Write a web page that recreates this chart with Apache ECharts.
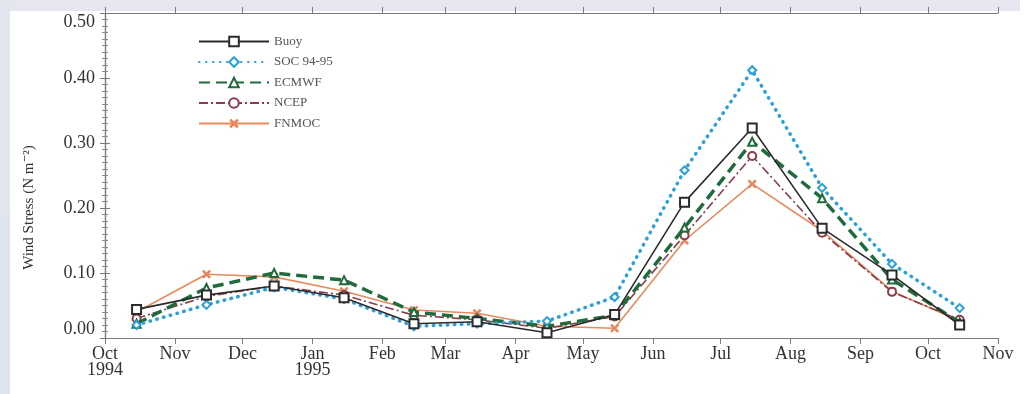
<!DOCTYPE html>
<html>
<head>
<meta charset="utf-8">
<script src="https://cdn.jsdelivr.net/npm/echarts@6/dist/echarts.min.js"></script>
<style>
html,body{margin:0;padding:0;background:#fff;}
#c{width:1030px;height:394px;}
</style>
</head>
<body>
<div id="c"></div>
<script>
// ---- data ----
var pointDates = ["1994-10-15","1994-11-15","1994-12-15","1995-01-15","1995-02-15","1995-03-15","1995-04-15","1995-05-15","1995-06-15","1995-07-15","1995-08-15","1995-09-15","1995-10-15"];
var monthStarts = ["1994-10-01","1994-11-01","1994-12-01","1995-01-01","1995-02-01","1995-03-01","1995-04-01","1995-05-01","1995-06-01","1995-07-01","1995-08-01","1995-09-01","1995-10-01","1995-11-01"];
var monthLabels = ["Oct\n1994","Nov","Dec","Jan\n1995","Feb","Mar","Apr","May","Jun","Jul","Aug","Sep","Oct","Nov"];
var yTicks = [0, 0.1, 0.2, 0.3, 0.4, 0.5];

var buoy   = [0.044, 0.066, 0.080, 0.062, 0.022, 0.025, 0.008, 0.036, 0.209, 0.323, 0.169, 0.097, 0.020];
var soc    = [0.020, 0.051, 0.078, 0.060, 0.018, 0.022, 0.026, 0.063, 0.258, 0.412, 0.231, 0.114, 0.046];
var ecmwf  = [0.022, 0.077, 0.100, 0.089, 0.040, 0.030, 0.018, 0.035, 0.170, 0.302, 0.215, 0.090, 0.024];
var ncep   = [0.030, 0.064, 0.080, 0.066, 0.035, 0.028, 0.015, 0.033, 0.158, 0.280, 0.162, 0.071, 0.028];
var fnmoc  = [0.040, 0.098, 0.094, 0.072, 0.043, 0.038, 0.018, 0.015, 0.150, 0.237, 0.165, 0.072, 0.026];

// ---- helpers ----
var origin = Date.UTC(1994, 9, 1);
function dayOf(s){ var p = s.split('-'); return (Date.UTC(+p[0], +p[1]-1, +p[2]) - origin) / 86400000; }
var xs = pointDates.map(dayOf);
var tickDays = monthStarts.map(dayOf);
function pairs(v){ return v.map(function(y,i){ return [xs[i], y]; }); }
var labelMap = {};
tickDays.forEach(function(d,i){ labelMap[d] = monthLabels[i]; });

var serif = '"Liberation Serif","DejaVu Serif",serif';
var axisCol = '#7a7a7a';
var xMark = 'path://M2,0 L5,3 L8,0 L10,2 L7,5 L10,8 L8,10 L5,7 L2,10 L0,8 L3,5 L0,2 Z';

function xAxisDef(pos, showLabel){
  return {
    type:'value', position:pos, min:tickDays[0], max:tickDays[tickDays.length-1],
    axisLine:{show:true, onZero:false, lineStyle:{color:axisCol, width:1.2}},
    axisTick:{show:true, customValues:tickDays, length:6, lineStyle:{color:axisCol}},
    axisLabel:{show:showLabel, customValues:tickDays, margin:8, fontFamily:serif, fontSize:18, color:'#333', lineHeight:16,
      formatter:function(v){ return labelMap[v] || ''; }},
    splitLine:{show:false}
  };
}
function yAxisDef(pos, showLabel){
  return {
    type:'value', position:pos, min:0, max:0.5, interval:0.1,
    axisLine:{show:true, lineStyle:{color:axisCol, width:1.2}},
    axisTick:{show:true, length:5, lineStyle:{color:axisCol}},
    minorTick:{show:true, splitNumber:10, length:3, lineStyle:{color:'#8a8a8a'}},
    axisLabel:{show:showLabel, margin:10, fontFamily:serif, fontSize:18, color:'#333',
      verticalAlignMaxLabel:'top', verticalAlignMinLabel:'bottom',
      formatter:function(v){ return v.toFixed(2); }},
    splitLine:{show:false},
    name: showLabel ? 'Wind Stress (N m\u207B\u00B2)' : '',
    nameLocation:'middle', nameGap:68, nameRotate:90,
    nameTextStyle:{fontFamily:serif, fontSize:15, color:'#333', padding:[0,64,0,0]}
  };
}

var chart = echarts.init(document.getElementById('c'), null, {renderer:'canvas'});
chart.setOption({
  backgroundColor:'#fff',
  animation:false,
  graphic:[
    {type:'rect', z:-10, shape:{x:0, y:0, width:1020, height:11}, style:{fill:'#e7e5ef'}},
    {type:'rect', z:-10, shape:{x:0, y:0, width:10, height:394}, style:{fill:'#e3e5ef'}},
    {type:'rect', z:-10, shape:{x:0, y:215, width:10, height:179}, style:{fill:'#dde4f0'}}
  ],
  grid:{left:105, right:32, top:13, bottom:56},
  legend:{
    orient:'vertical', left:193, top:30, itemWidth:70, itemHeight:12, itemGap:7.5,
    textStyle:{fontFamily:serif, fontSize:13, color:'#555'},
    data:['Buoy','SOC 94-95','ECMWF','NCEP','FNMOC']
  },
  xAxis:[xAxisDef('bottom', true), xAxisDef('top', false)],
  yAxis:[yAxisDef('left', true), yAxisDef('right', false)],
  series:[
    {name:'FNMOC', type:'line', data:pairs(fnmoc), symbol:xMark, symbolSize:9,
      itemStyle:{color:'#e6875b'}, lineStyle:{color:'#e98a5c', width:1.6}, z:2},
    {name:'NCEP', type:'line', data:pairs(ncep), symbol:'emptyCircle', symbolSize:8,
      itemStyle:{color:'#8a3b4c', borderColor:'#8a3b4c'}, lineStyle:{color:'#8a3b4c', width:1.6, type:[9,3,2,3]}, z:3},
    {name:'ECMWF', type:'line', data:pairs(ecmwf), symbol:'emptyTriangle', symbolSize:8,
      itemStyle:{color:'#1f6b3c', borderColor:'#1f6b3c'}, lineStyle:{color:'#1f6b3c', width:3.5, type:[11,6]}, z:4},
    {name:'SOC 94-95', type:'line', data:pairs(soc), symbol:'emptyDiamond', symbolSize:8,
      itemStyle:{color:'#2a9fd8', borderColor:'#2a9fd8'}, lineStyle:{color:'#2a9fd8', width:3.5, type:[0.5,6.5], cap:'round'}, z:5},
    {name:'Buoy', type:'line', data:pairs(buoy), symbol:'emptyRect', symbolSize:9,
      itemStyle:{color:'#2b2b2b', borderColor:'#2b2b2b', borderWidth:1.6}, lineStyle:{color:'#2b2b2b', width:1.6}, z:6}
  ]
});
</script>
</body>
</html>
